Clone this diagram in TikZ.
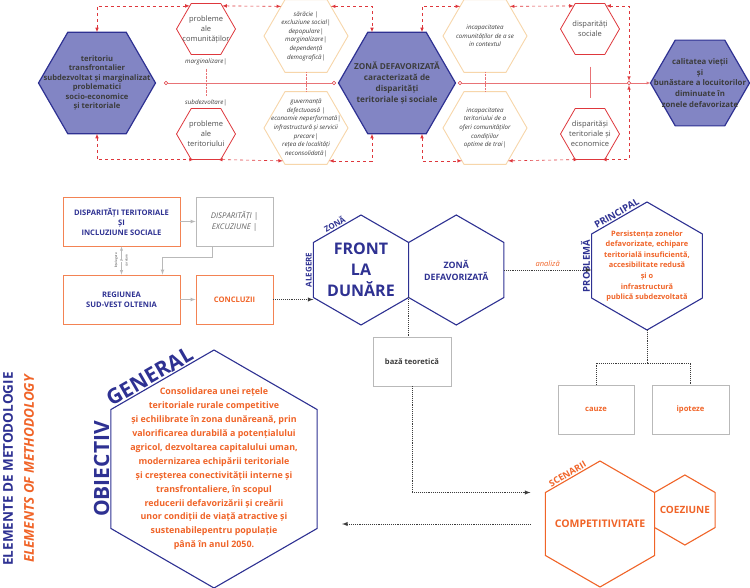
\documentclass[tikz,border=0pt]{standalone}
\usepackage{fontspec}
\setmainfont{Open Sans}
\usetikzlibrary{calc,positioning,shapes,arrows}
\definecolor{navy}{RGB}{46,49,146}
\definecolor{lila}{RGB}{130,133,196}
\definecolor{orng}{RGB}{240,100,40}
\definecolor{redl}{RGB}{222,55,60}
\definecolor{pale}{RGB}{247,214,170}
\definecolor{txt}{RGB}{60,60,60}
\definecolor{boxg}{RGB}{185,185,185}

\begin{document}
\begin{tikzpicture}[x=1pt,y=-1pt,>=latex,
  hexf/.style={regular polygon,regular polygon sides=6,inner sep=0pt,outer sep=0pt,minimum size=#1},
  hexp/.style={hexf=#1,regular polygon rotate=30},
  main/.style={fill=lila,draw=navy,line width=1.2pt},
  prob/.style={draw=redl,fill=white,line width=0.8pt},
  cause/.style={draw=pale,fill=white,line width=0.9pt},
  nhex/.style={draw=navy,fill=white,line width=1.1pt},
  ohex/.style={draw=orng,fill=white,line width=1.1pt},
  maintxt/.style={font=\bfseries\fontsize{7.6}{9.4}\selectfont,text=txt,align=center},
  probtxt/.style={font=\fontsize{7.5}{10}\selectfont,text=txt!90,align=center},
  causetxt/.style={font=\itshape\fontsize{6.2}{8.6}\selectfont,text=txt,align=center},
  obtxt/.style={font=\bfseries\fontsize{8.9}{13.9}\selectfont,text=orng,align=center},
  tag/.style={font=\bfseries\fontsize{8}{8}\selectfont,text=navy,inner sep=1.5pt},
  obox/.style={draw=orng!80,line width=0.9pt,minimum width=117,minimum height=49,align=center,
    font=\bfseries\fontsize{7.6}{10}\selectfont,text=navy},
  gbox/.style={draw=boxg,line width=0.8pt,minimum width=77,minimum height=49,align=center,
    font=\bfseries\fontsize{7.6}{10}\selectfont},
  dot/.style={circle,draw=redl,fill=white,inner sep=1.3pt,line width=0.5pt},
  redlink/.style={draw=redl,dashed,latex-latex,line width=0.6pt},
  thinred/.style={draw=redl!70,line width=0.4pt},
  dotlink/.style={densely dotted,line width=0.9pt,draw=txt},
  glink/.style={draw=boxg,line width=0.7pt,-latex}]
\useasboundingbox (0,0) rectangle (750,588);

% problem tree
\node[hexf=117,main,label={[maintxt]center:{teritoriu\\transfrontalier\\subdezvoltat și marginalizat\\problematici\\socio-economice\\și teritoriale}}] (h1) at (97,83) {};
\node[hexf=59,prob,label={[probtxt]center:{probleme\\ale\\comunităților}}] (pc) at (206,29) {};
\node[hexf=59,prob,label={[probtxt]center:{probleme\\ale\\teritoriului}}] (pt) at (206,134) {};
\node[causetxt] (lm) at (206,62) {marginalizare|};
\node[causetxt] (ls) at (206,103) {subdezvoltare|};
\node[hexf=84,cause,label={[causetxt]center:{sărăcie |\\excluziune social|\\depopulare|\\marginalizare|\\dependență\\demografică|}}] (sa) at (306,36) {};
\node[hexf=84,cause,label={[causetxt]center:{guvernanță\\defectuoasă |\\economie neperformată|\\infrastructură și servicii\\precare|\\rețea de localități\\neconsolidată|}}] (gv) at (306,128) {};
\node[hexf=117,main,label={[maintxt,font=\bfseries\fontsize{8.2}{11}\selectfont]center:{ZONĂ DEFAVORIZATĂ\\caracterizată de\\disparități\\teritoriale și sociale}}] (zd) at (397,83) {};
\node[hexf=84,cause,label={[causetxt]center:{incapacitatea\\comunităților de a se\\in contextul}}] (ic) at (485,36) {};
\node[hexf=84,cause,label={[causetxt]center:{incapacitatea\\teritoriului de a\\oferi comunităților\\condițiilor\\optime de trai|}}] (it) at (485,128) {};
\node[hexf=59,prob,label={[probtxt]center:{disparități\\sociale}}] (ds) at (590,29) {};
\node[hexf=59,prob,label={[probtxt]center:{disparităși\\teritoriale și\\economice}}] (de) at (590,134) {};
\node[hexf=99,main,label={[maintxt,font=\bfseries\fontsize{7.8}{10.8}\selectfont]center:{calitatea vieții\\și\\bunăstare a locuitorilor\\diminuate în\\zonele defavorizate}}] (cv) at (700,83) {};
\node[dot] (c1) at (166,83) {};
\node[dot] (c2) at (334,83) {};
\node[dot] (c3) at (460,83) {};
\node[dot] (jn) at (629,83) {};

\draw[thinred] (c1) -- (c2);
\draw[thinred] (c3) -- (jn);
\draw[thinred,-latex] (jn) -- (cv);
\draw[thinred,densely dotted] (lm) -- (ls);
\draw[thinred,densely dotted] (sa) -- (gv);
\draw[thinred,densely dotted] (ic) -- (it);
\draw[thinred,shorten <=12pt,shorten >=10pt] (ds) -- (de);
\draw[redlink] (h1.north) |- (pc.125);
\draw[redlink] (pc.55) -- (sa.130);
\draw[redlink] (sa.50) -| ([xshift=-25pt]zd.north);
\draw[redlink] ([xshift=25pt]zd.north) |- (ic.130);
\draw[redlink] (ic.50) -- (ds.125);
\draw[redlink] (ds.55) -| (jn);
\draw[redlink] (h1.south) |- (pt.245);
\draw[redlink] (pt.295) -- (gv.235);
\draw[redlink] (gv.305) -| ([xshift=-25pt]zd.south);
\draw[redlink] ([xshift=25pt]zd.south) |- (it.235);
\draw[redlink] (it.305) -- (de.245);
\draw[redlink] (de.295) -| (jn);

% methodology
\node[obox] (b1) at (121.5,221.5) {DISPARITĂȚI TERITORIALE\\ȘI\\INCLUZIUNE SOCIALE};
\node[gbox,font=\itshape\fontsize{7.8}{11}\selectfont,text=txt!80] (b2) at (234.5,221.5) {DISPARITĂȚI |\\EXCUZIUNE |};
\node[obox] (rg) at (121.5,299.5) {REGIUNEA\\SUD-VEST OLTENIA};
\node[obox,minimum width=77,text=orng] (cc) at (234.5,299.5) {CONCLUZII};
\node[hexp=110,nhex,label={[font=\bfseries\fontsize{16}{21}\selectfont,text=navy,align=center]center:{FRONT\\LA\\DUNĂRE}}] (fr) at (361,270) {};
\node[hexp=110,nhex,right=0pt of fr,label={[font=\bfseries\fontsize{8.8}{12}\selectfont,text=navy,align=center]center:{ZONĂ\\DEFAVORIZATĂ}}] (zd2) {};
\node[tag,rotate=30,anchor=south] (tz) at ($(fr.150)!.5!(fr.90)$) {ZONĂ};
\node[tag,rotate=90,anchor=south] (ta) at ($(fr.150)!.5!(fr.210)$) {ALEGERE};
\node[hexp=128,nhex,label={[obtxt,font=\bfseries\fontsize{7.4}{10.6}\selectfont]center:{Persistența zonelor\\defavorizate, echipare\\teritorială insuficientă,\\accesibilitate redusă\\și o\\infrastructură\\publică subdezvoltată}}] (pp) at (647,266) {};
\node[tag,font=\bfseries\fontsize{9.5}{9.5}\selectfont,rotate=90,anchor=south] (tp) at ($(pp.150)!.5!(pp.210)$) {PROBLEMĂ};
\node[tag,font=\bfseries\fontsize{9.5}{9.5}\selectfont,rotate=30,anchor=south] (tq) at ($(pp.150)!.5!(pp.90)$) {PRINCIPAL};
\node[gbox,minimum width=78,text=txt] (bt) at (412,361.5) {bază teoretică};
\node[gbox,minimum width=76,text=orng] (cz) at (596,409.5) {cauze};
\node[gbox,text=orng] (ip) at (690.5,409.5) {ipoteze};
\node[hexp=126,ohex,label={[font=\bfseries\fontsize{10.5}{12}\selectfont,text=orng]center:{COMPETITIVITATE}}] (sc) at (600,524) {};
\node[hexp=70,ohex,right=0pt of sc,yshift=14pt,label={[font=\bfseries\fontsize{10}{12}\selectfont,text=orng]center:{COEZIUNE}}] (co) {};
\node[tag,text=orng,font=\bfseries\fontsize{9}{9}\selectfont,rotate=30,anchor=south] (ts) at ($(sc.150)!.45!(sc.90)$) {SCENARII};
\node[hexp=238,nhex,label={[obtxt]center:{Consolidarea unei rețele\\teritoriale rurale competitive\\și echilibrate în zona dunăreană, prin\\valorificarea durabilă a potențialului\\agricol, dezvoltarea capitalului uman,\\modernizarea echipării teritoriale\\și creșterea conectivității interne și\\transfrontaliere, în scopul\\reducerii defavorizării și creării\\unor condiții de viață atractive și\\sustenabilepentru populație\\până în anul 2050.}}] (ob) at (214,469) {};
\node[tag,font=\bfseries\fontsize{21}{21}\selectfont,rotate=90,anchor=south] (to) at ($(ob.150)!.5!(ob.210)$) {OBIECTIV};
\node[tag,font=\bfseries\fontsize{21}{21}\selectfont,rotate=30,anchor=south] (tg) at ($(ob.150)!.42!(ob.90)$) {GENERAL};
\node[rotate=90,font=\bfseries\fontsize{13.5}{14}\selectfont,text=navy,inner sep=0pt] (t1) at (8,469) {ELEMENTE DE METODOLOGIE};
\node[rotate=90,font=\bfseries\itshape\fontsize{13.5}{14}\selectfont,text=orng,inner sep=0pt] (t2) at (29,469) {ELEMENTS OF METHODOLOGY};

\draw[glink] (b1) -- (b2);
\draw[glink] ([xshift=-22pt]b2.south) -- ++(0,11) -| ([xshift=41pt]rg.north);
\draw[glink] (rg) -- (cc);
\draw[glink,latex-latex,line width=0.5pt] (b1) -- node[midway,rotate=90,above,font=\fontsize{3.2}{3.2}\selectfont,text=txt]{înțelegere}
  node[midway,rotate=90,font=\fontsize{3.2}{3.2}\selectfont,fill=white,inner sep=0.3pt,text=txt]{și}
  node[midway,rotate=90,below,font=\fontsize{3.2}{3.2}\selectfont,text=txt]{corelare} (rg);
\draw[dotlink,-latex] (cc) -- (cc -| fr.west);
\draw[dotlink,-latex] (zd2) -- node[above,font=\itshape\fontsize{7.5}{8}\selectfont,text=orng]{analiză} (zd2 -| pp.west);
\draw[dotlink] (fr.-30) -- (fr.-30 |- bt.north);
\draw[dotlink,-latex,shorten >=15pt] (bt) |- (sc.150);
\draw[dotlink] (pp.south) -- ++(0,33) -| (cz.north);
\draw[dotlink] (pp.south) -- ++(0,33) -| (ip.north);
\draw[dotlink,-latex,shorten <=15pt,shorten >=25pt] (sc.west) -- (sc.west -| ob.east);
\end{tikzpicture}
\end{document}
